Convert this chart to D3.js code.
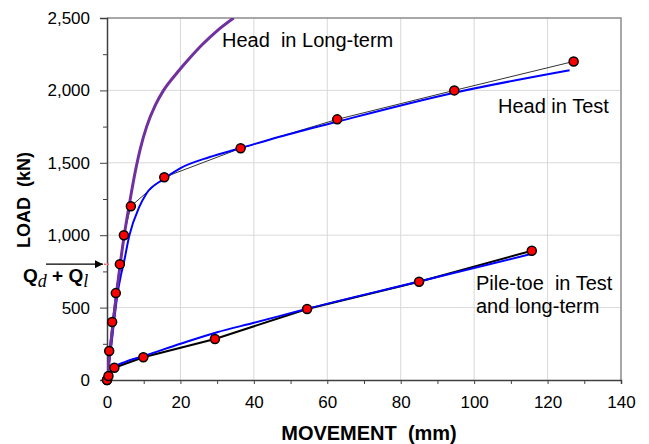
<!DOCTYPE html>
<html>
<head>
<meta charset="utf-8">
<script src="https://cdn.jsdelivr.net/npm/d3@7"></script>
<style>
  html, body { margin: 0; padding: 0; background: #fff; }
  svg { display: block; font-family: "Liberation Sans", Arial, sans-serif; }
</style>
</head>
<body>
<svg id="chart" width="649" height="444"></svg>
<script>
// ---- data (movement in mm, load in kN) ----
const xTicks = [0, 20, 40, 60, 80, 100, 120, 140];
const yTicks = [0, 500, 1000, 1500, 2000, 2500];

const headTestMove = [0, 0.6, 1.4, 2.4, 3.5, 4.6, 6.5, 15.6, 36.4, 62.7, 94.6, 127.1];
const headTestLoad = [0, 200, 400, 600, 800, 1000, 1200, 1400, 1600, 1800, 2000, 2200];

const headFitMove = [0, 1.0, 1.9, 2.9, 3.8, 4.5, 6.1, 8.7, 10.8, 15.3, 19.9, 28, 36.2, 47, 62.7, 94.6, 126];
const headFitLoad = [0, 200, 400, 600, 725, 800, 1000, 1190, 1290, 1385, 1462, 1540, 1600, 1680, 1784, 1984, 2139];

const longTermMove = [0, 0.8, 1.7, 2.6, 3.6, 4.7, 6.0, 7.4, 8.2, 9.1, 10.8, 13.2, 15.4, 19.2, 22.6, 26.1, 29.9, 34.5];
const longTermLoad = [0, 200, 400, 600, 800, 1000, 1200, 1400, 1500, 1600, 1750, 1900, 2000, 2125, 2225, 2320, 2410, 2500];

const toeTestMove = [0, 0.4, 2.0, 9.9, 29.4, 54.5, 85.0, 115.7];
const toeTestLoad = [0, 28, 85, 157, 283, 490, 678, 893];

const toeFitMove = [0, 0.5, 2, 5, 10, 20, 30, 40, 55, 85, 115.5];
const toeFitLoad = [0, 40, 90, 125, 165, 250, 330, 395, 495, 680, 870];

const qLoad = 800;

// ---- layout ----
const svg = d3.select("#chart");
const L = 107, R = 621, T = 18, B = 380;
const x = d3.scaleLinear().domain([0, 140]).range([L, R]);
const y = d3.scaleLinear().domain([0, 2500]).range([B, T]);

const zip = (a, b) => a.map((v, i) => [v, b[i]]);

// gridlines
const grid = svg.append("g");
grid.selectAll(".gx").data(xTicks.filter(d => d > 0 && d < 140)).join("line")
  .attr("x1", d => x(d)).attr("x2", d => x(d)).attr("y1", T).attr("y2", B)
  .attr("stroke", "#d9d9d9").attr("stroke-width", 1);
grid.selectAll(".gy").data(yTicks.filter(d => d > 0 && d < 2500)).join("line")
  .attr("y1", d => y(d)).attr("y2", d => y(d)).attr("x1", L).attr("x2", R)
  .attr("stroke", "#d9d9d9").attr("stroke-width", 1);

// frame (top/right)
svg.append("path")
  .attr("d", `M${L},${T}H${R}V${B}`)
  .attr("fill", "none").attr("stroke", "#8c8c8c").attr("stroke-width", 1.5);

// axes
const fmt = d3.format(",");
const yAxis = svg.append("g").attr("transform", `translate(${L},0)`)
  .call(d3.axisLeft(y).tickValues(yTicks).tickFormat(fmt).tickSize(7).tickPadding(10));
const yMinor = svg.append("g").attr("transform", `translate(${L},0)`)
  .call(d3.axisLeft(y).tickValues(d3.range(250, 2500, 500)).tickFormat("").tickSize(4));
const xAxis = svg.append("g").attr("transform", `translate(0,${B})`)
  .call(d3.axisBottom(x).tickValues(xTicks).tickSize(4).tickPadding(12));
const xMinor = svg.append("g").attr("transform", `translate(0,${B})`)
  .call(d3.axisBottom(x).tickValues(d3.range(10, 140, 20)).tickFormat("").tickSize(4));

[yAxis, yMinor, xAxis, xMinor].forEach(g => {
  g.select(".domain").attr("stroke", "#404040").attr("stroke-width", 1.5);
  g.selectAll(".tick line").attr("stroke", "#404040").attr("stroke-width", 1);
  g.selectAll("text").attr("font-size", 17).attr("fill", "#000")
    .attr("font-family", "Liberation Sans, Arial, sans-serif");
});
yMinor.select(".domain").remove();
xMinor.select(".domain").remove();

// lines
const lin = d3.line().x(d => x(d[0])).y(d => y(d[1]));
const smooth = d3.line().x(d => x(d[0])).y(d => y(d[1])).curve(d3.curveMonotoneX);

const clip = svg.append("clipPath").attr("id", "clip")
  .append("rect").attr("x", L).attr("y", T).attr("width", R - L).attr("height", B - T);
const plot = svg.append("g").attr("clip-path", "url(#clip)");

plot.append("path").attr("d", lin(zip(headTestMove, headTestLoad)))
  .attr("fill", "none").attr("stroke", "#333").attr("stroke-width", 1);
plot.append("path").attr("d", lin(zip(toeTestMove, toeTestLoad)))
  .attr("fill", "none").attr("stroke", "#000").attr("stroke-width", 2);
plot.append("path").attr("d", smooth(zip(headFitMove, headFitLoad)))
  .attr("fill", "none").attr("stroke", "#0000ff").attr("stroke-width", 2);
plot.append("path").attr("d", smooth(zip(toeFitMove, toeFitLoad)))
  .attr("fill", "none").attr("stroke", "#0000ff").attr("stroke-width", 2);
plot.append("path").attr("d", smooth(zip(longTermMove, longTermLoad)))
  .attr("fill", "none").attr("stroke", "#7030a0").attr("stroke-width", 3);

// points
const pts = zip(headTestMove, headTestLoad).concat(zip(toeTestMove, toeTestLoad));
svg.append("g").selectAll("circle").data(pts).join("circle")
  .attr("cx", d => x(d[0])).attr("cy", d => y(d[1])).attr("r", 4.5)
  .attr("fill", "#ff0000").attr("stroke", "#000").attr("stroke-width", 1.5);

// Qd + Ql marker
svg.append("line").attr("x1", x(0) - 3).attr("x2", x(0) + 3)
  .attr("y1", y(qLoad)).attr("y2", y(qLoad))
  .attr("stroke", "#ff6060").attr("stroke-width", 1.5).attr("stroke-dasharray", "2,1");
svg.append("defs").append("marker").attr("id", "arr")
  .attr("viewBox", "0 0 10 10").attr("refX", 10).attr("refY", 5)
  .attr("markerWidth", 8).attr("markerHeight", 8).attr("markerUnits", "userSpaceOnUse")
  .attr("orient", "auto")
  .append("path").attr("d", "M0,0L10,5L0,10Z").attr("fill", "#000");
svg.append("line").attr("x1", 46).attr("x2", 103)
  .attr("y1", y(qLoad)).attr("y2", y(qLoad))
  .attr("stroke", "#000").attr("stroke-width", 1.2).attr("marker-end", "url(#arr)");

const q = svg.append("text").attr("x", 23).attr("y", 282)
  .attr("font-size", 19).attr("font-weight", "bold").attr("fill", "#000");
q.append("tspan").text("Q");
q.append("tspan").attr("font-family", "Liberation Serif, Times New Roman, serif")
  .attr("font-style", "italic").attr("font-weight", "normal").attr("font-size", 18)
  .attr("dy", 5).text("d");
q.append("tspan").attr("dy", -5).text(" + Q");
q.append("tspan").attr("font-family", "Liberation Serif, Times New Roman, serif")
  .attr("font-style", "italic").attr("font-weight", "normal").attr("font-size", 18)
  .attr("dy", 5).text("l");

// axis titles
svg.append("text").attr("x", 369).attr("y", 440).attr("text-anchor", "middle")
  .attr("font-size", 20).attr("font-weight", "bold")
  .style("white-space", "pre").text("MOVEMENT  (mm)");
svg.append("text").attr("transform", "translate(30,200) rotate(-90)")
  .attr("text-anchor", "middle").attr("font-size", 18).attr("font-weight", "bold")
  .style("white-space", "pre").text("LOAD  (kN)");

// curve labels
const lab = (t, xx, yy) => svg.append("text").attr("x", xx).attr("y", yy)
  .attr("font-size", 20).style("white-space", "pre").attr("fill", "#000").text(t);
lab("Head  in Long-term", 222, 47);
lab("Head in Test", 498, 113);
lab("Pile-toe  in Test", 476, 290);
lab("and long-term", 476, 313);
</script>
</body>
</html>
